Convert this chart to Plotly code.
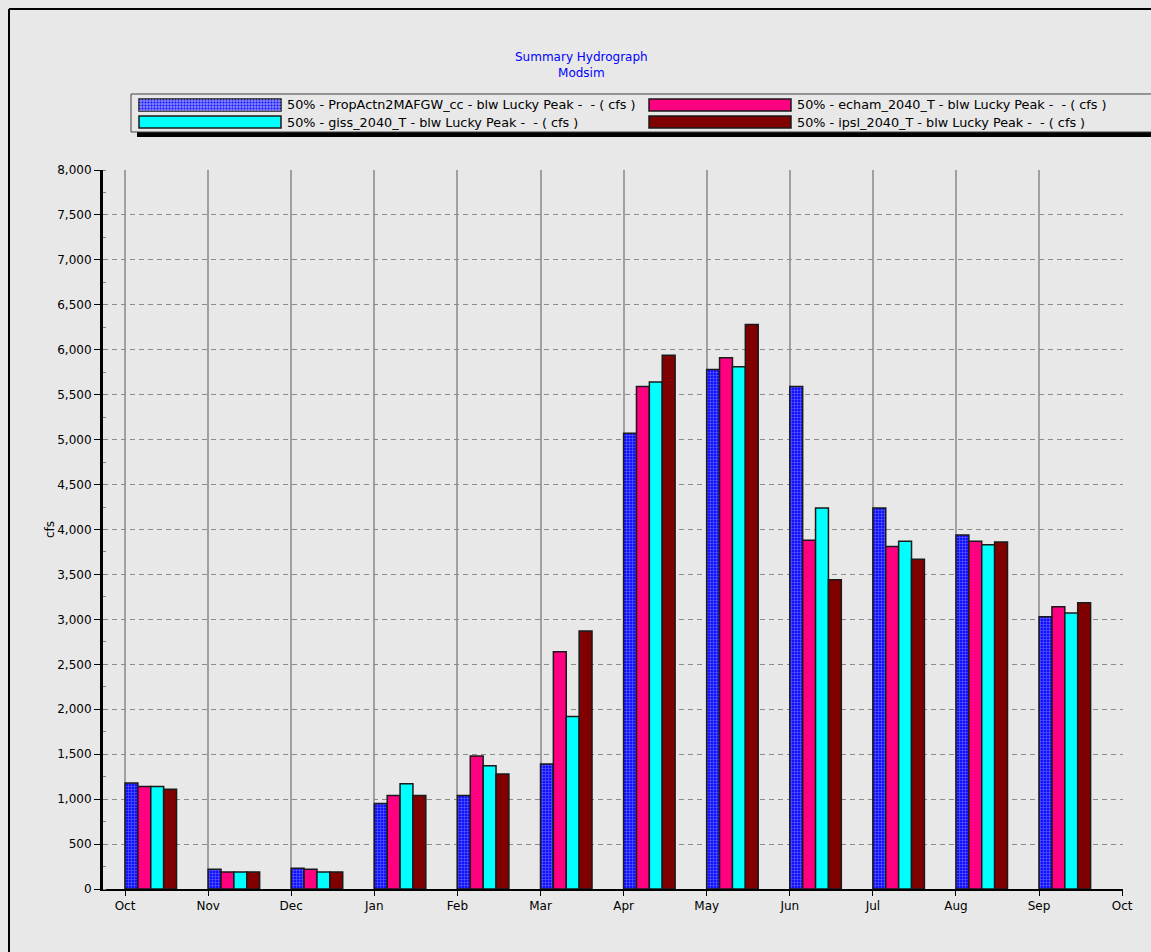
import plotly.graph_objects as go

# months on the x axis (tick labels), Oct through the following Oct
month_labels = ["Oct", "Nov", "Dec", "Jan", "Feb", "Mar", "Apr", "May", "Jun", "Jul", "Aug", "Sep", "Oct"]

# 50% exceedance flows below Lucky Peak, cfs, one value per month Oct..Sep
propactn = [1180, 220, 230, 950, 1040, 1390, 5070, 5780, 5590, 4240, 3940, 3030]
echam = [1140, 190, 220, 1040, 1480, 2640, 5590, 5910, 3880, 3810, 3870, 3140]
giss = [1140, 190, 190, 1170, 1370, 1920, 5640, 5810, 4240, 3870, 3830, 3070]
ipsl = [1110, 190, 190, 1040, 1280, 2870, 5940, 6280, 3440, 3670, 3860, 3185]

series_names = [
    "50% - PropActn2MAFGW_cc - blw Lucky Peak -  - ( cfs )",
    "50% - echam_2040_T - blw Lucky Peak -  - ( cfs )",
    "50% - giss_2040_T - blw Lucky Peak -  - ( cfs )",
    "50% - ipsl_2040_T - blw Lucky Peak -  - ( cfs )",
]
series_colors = ["#1010ff", "#ff0080", "#00ffff", "#800000"]

FONT = "DejaVu Sans, Verdana, sans-serif"
BG = "#e8e8e8"

W, H = 1151, 952
L, R, T, B = 103, 1123, 170, 889   # plot area in pixels


def px(x):
    return (x - L) / (R - L)


def py(y):
    return (B - y) / (B - T)


fig = go.Figure()

# group of bars sits just right of each month tick
xpos = [i + 0.31 for i in range(len(propactn))]
all_series = [propactn, echam, giss, ipsl]
for k, vals in enumerate(all_series):
    marker = dict(color=series_colors[k], line=dict(color="#1a1a1a", width=1.5))
    if k == 0:
        marker["pattern"] = dict(shape="+", fgcolor="#b4b4ff", size=3, solidity=0.35)
    fig.add_trace(go.Bar(x=xpos, y=vals, name=series_names[k], marker=marker, showlegend=False))

fig.update_layout(
    width=W, height=H,
    margin=dict(l=L, r=W - R, t=T, b=H - B, pad=0),
    paper_bgcolor=BG, plot_bgcolor=BG,
    barmode="group", bargap=0.38, bargroupgap=0.0,
    font=dict(family=FONT, size=12, color="#000000"),
)

fig.update_xaxes(
    range=[-0.265, 12.01],
    tickvals=list(range(len(month_labels))), ticktext=month_labels,
    ticks="outside", ticklen=5, tickcolor="#000000",
    showgrid=True, gridcolor="#a0a0a0", gridwidth=1.5,
    showline=True, linecolor="#000000", linewidth=2,
    zeroline=False, tickfont=dict(size=12),
)
fig.update_yaxes(
    range=[0, 8000], dtick=500, tickformat=",d",
    ticks="outside", ticklen=6, tickcolor="#000000",
    showgrid=True, gridcolor="#8c8c8c", gridwidth=1, griddash="5px,4px",
    showline=True, linecolor="#000000", linewidth=3,
    zeroline=False, tickfont=dict(size=12),
    minor=dict(dtick=250, ticks="inside", ticklen=3, tickcolor="#808080", showgrid=False),
)

shapes = []
annotations = []

# outer panel frame (top and left edges)
shapes.append(dict(type="line", xref="paper", yref="paper", x0=px(9), x1=px(1160), y0=py(9), y1=py(9),
                   line=dict(color="#000000", width=2)))
shapes.append(dict(type="line", xref="paper", yref="paper", x0=px(9), x1=px(9), y0=py(9), y1=py(960),
                   line=dict(color="#000000", width=2)))

# title
annotations.append(dict(text="Summary Hydrograph<br>Modsim", xref="paper", yref="paper",
                        x=px(581), y=py(65), xanchor="center", yanchor="middle",
                        showarrow=False, align="center",
                        font=dict(family=FONT, size=12, color="#0000ff")))

# y axis title
annotations.append(dict(text="cfs", xref="paper", yref="paper", x=px(50), y=py(530),
                        xanchor="center", yanchor="middle",
                        textangle=-90, showarrow=False, font=dict(family=FONT, size=12)))

# legend box with drop shadow
shapes.append(dict(type="rect", xref="paper", yref="paper", x0=px(137), x1=px(1160), y0=py(137), y1=py(130),
                   fillcolor="#000000", line=dict(width=0)))
shapes.append(dict(type="rect", xref="paper", yref="paper", x0=px(131), x1=px(1160), y0=py(132), y1=py(94),
                   fillcolor=BG, line=dict(color="#404040", width=1)))

swatch_x = [139, 649, 139, 649]
swatch_y = [99, 99, 116, 116]
legend_order = [0, 1, 2, 3]
for j, k in enumerate(legend_order):
    x0, y0 = swatch_x[j], swatch_y[j]
    shapes.append(dict(type="rect", xref="paper", yref="paper", x0=px(x0), x1=px(x0 + 142),
                       y0=py(y0 + 12), y1=py(y0), fillcolor=series_colors[k],
                       line=dict(color="#1a1a1a", width=1.5)))
    # keep the double space (svg would collapse it)
    label = series_names[k].replace("  ", "\u00a0 ")
    annotations.append(dict(text=label, xref="paper", yref="paper", x=px(x0 + 146), y=py(y0 + 6),
                            xanchor="left", yanchor="middle", showarrow=False,
                            font=dict(family=FONT, size=12.8)))

# light grid over the blue legend swatch to mimic the bar pattern
for gx in range(141, 281, 3):
    shapes.append(dict(type="line", xref="paper", yref="paper", x0=px(gx), x1=px(gx), y0=py(111), y1=py(99),
                       line=dict(color="#9a9aff", width=1)))
for gy in range(101, 111, 3):
    shapes.append(dict(type="line", xref="paper", yref="paper", x0=px(139), x1=px(281), y0=py(gy), y1=py(gy),
                       line=dict(color="#9a9aff", width=1)))

fig.update_layout(shapes=shapes, annotations=annotations)

# drop the default 8px body margin so the figure fills the window
fig.write_html("out.html", config={"displayModeBar": False},
               post_script="document.body.style.margin='0';document.body.style.overflow='hidden';")
